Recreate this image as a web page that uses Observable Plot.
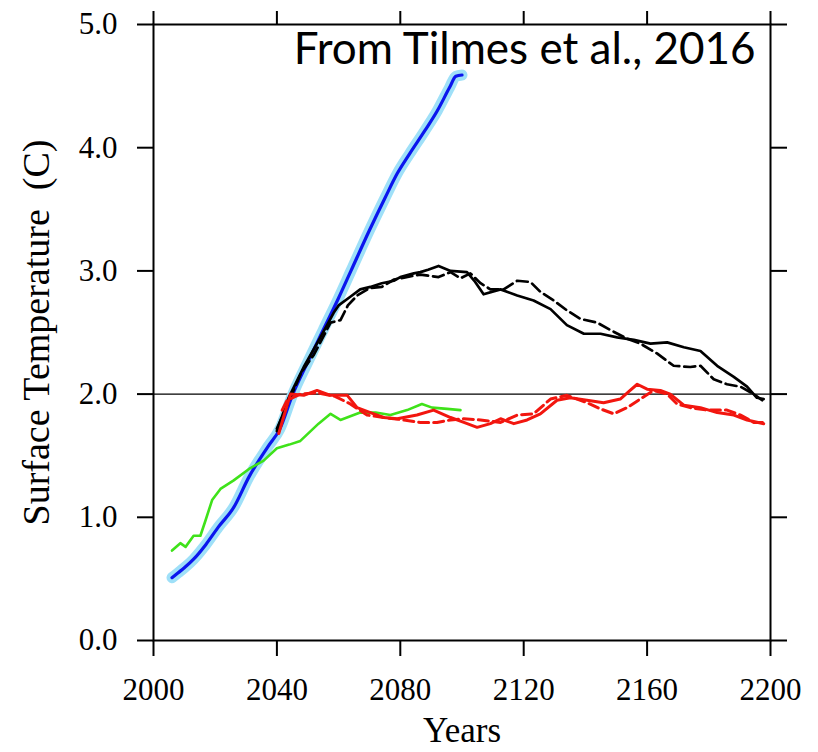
<!DOCTYPE html>
<html>
<head>
<meta charset="utf-8">
<script src="https://cdn.jsdelivr.net/npm/d3@7"></script>
<script src="https://cdn.jsdelivr.net/npm/@observablehq/plot@0.6"></script>
<style>
  html, body { margin: 0; padding: 0; background: #fff; }
</style>
</head>
<body>
<div id="chart"></div>
<script>
// ---- Data (years, surface temperature °C) ----
const blueYears = [2006, 2008, 2010, 2013, 2017, 2021, 2026, 2031, 2037, 2041, 2045, 2050, 2055, 2060, 2064, 2070, 2075, 2079, 2083, 2088, 2092, 2096, 2098, 2100];
const blueVals  = [0.51, 0.55, 0.59, 0.66, 0.78, 0.92, 1.08, 1.33, 1.57, 1.72, 1.99, 2.26, 2.52, 2.78, 3.00, 3.33, 3.59, 3.79, 3.95, 4.14, 4.30, 4.49, 4.58, 4.59];

const greenYears = [2006, 2008.7, 2010.4, 2013, 2015.2, 2016.8, 2019, 2021.7, 2026, 2031.4, 2035.7, 2040, 2044, 2047.6, 2053.5, 2057.4, 2060.6, 2067, 2072, 2076.8, 2082.2, 2087, 2090.3, 2095.2, 2099.5];
const greenVals  = [0.73, 0.79, 0.76, 0.85, 0.85, 0.97, 1.14, 1.23, 1.30, 1.40, 1.46, 1.56, 1.59, 1.62, 1.76, 1.84, 1.79, 1.85, 1.85, 1.83, 1.87, 1.92, 1.89, 1.88, 1.87];

const blackSolidYears = [2040, 2043.8, 2048.7, 2054.1, 2058.4, 2060, 2063.8, 2067, 2070.3, 2074, 2077.9, 2080, 2084.4, 2086.5, 2089, 2092.4, 2096.3, 2101.6, 2104, 2107, 2112.5, 2117.9, 2123.2, 2128.7, 2134, 2139.5, 2144.9, 2150.3, 2155.7, 2161.1, 2166.5, 2171.9, 2177.3, 2182.7, 2188.1, 2192.4, 2195.6, 2197.8];
const blackSolidVals  = [1.70, 1.97, 2.22, 2.46, 2.66, 2.72, 2.79, 2.85, 2.87, 2.90, 2.92, 2.95, 2.98, 2.99, 3.01, 3.04, 3.00, 2.99, 2.92, 2.81, 2.85, 2.80, 2.76, 2.69, 2.56, 2.49, 2.49, 2.46, 2.44, 2.41, 2.42, 2.38, 2.35, 2.23, 2.14, 2.06, 1.97, 1.96];

const blackDashYears = [2040, 2044, 2048, 2052, 2057.4, 2060.6, 2063, 2066, 2070, 2074, 2078, 2082, 2086.5, 2092.4, 2096.3, 2099.5, 2102.7, 2106, 2109.2, 2113.5, 2117.9, 2122.2, 2125.4, 2129.7, 2134, 2138.4, 2143.8, 2148.1, 2153.5, 2157.8, 2163.2, 2168.6, 2174, 2177.3, 2181.6, 2185.9, 2190.3, 2194.6, 2197.3];
const blackDashVals  = [1.72, 1.95, 2.18, 2.32, 2.58, 2.60, 2.72, 2.80, 2.86, 2.87, 2.93, 2.95, 2.97, 2.95, 2.99, 2.94, 2.98, 2.90, 2.85, 2.85, 2.92, 2.91, 2.83, 2.76, 2.68, 2.61, 2.58, 2.52, 2.45, 2.41, 2.33, 2.23, 2.22, 2.23, 2.12, 2.08, 2.06, 2.00, 1.95];

const redSolidYears = [2040.6, 2042, 2044.4, 2048.7, 2053, 2057.4, 2062.8, 2066, 2070.3, 2074.6, 2079, 2085.4, 2090.8, 2096.3, 2100.6, 2104.9, 2109.2, 2112.5, 2116.8, 2121.1, 2125.4, 2130.8, 2135.1, 2140.5, 2145.9, 2151.3, 2154.5, 2156.8, 2160, 2164.3, 2167.5, 2171.9, 2177.3, 2182.7, 2188.1, 2192.4, 2197.8];
const redSolidVals  = [1.68, 1.80, 2.00, 1.99, 2.03, 1.99, 1.99, 1.89, 1.85, 1.81, 1.80, 1.83, 1.87, 1.81, 1.77, 1.73, 1.76, 1.80, 1.76, 1.79, 1.84, 1.95, 1.97, 1.95, 1.93, 1.96, 2.03, 2.08, 2.04, 2.03, 2.00, 1.91, 1.89, 1.85, 1.83, 1.79, 1.76];

const redDashYears = [2041.7, 2043.3, 2047.6, 2053, 2059, 2063.8, 2069.2, 2074.6, 2081.1, 2086.5, 2091.9, 2096.3, 2100.6, 2106, 2112.5, 2117.9, 2123.2, 2128.7, 2134, 2140.5, 2144.9, 2149.2, 2153.5, 2157.8, 2162.1, 2166.5, 2169.7, 2174, 2179.4, 2185.9, 2190.3, 2194.6, 2197.8];
const redDashVals  = [1.87, 1.95, 2.00, 2.01, 1.98, 1.92, 1.83, 1.81, 1.79, 1.77, 1.77, 1.79, 1.80, 1.79, 1.77, 1.83, 1.84, 1.96, 1.99, 1.93, 1.88, 1.84, 1.89, 1.96, 2.03, 2.00, 1.92, 1.89, 1.87, 1.87, 1.83, 1.77, 1.77];

const xTicks = [2000, 2040, 2080, 2120, 2160, 2200];
const yTicks = [0, 1, 2, 3, 4, 5];
const targetLevel = [2.0];
const yLabel = "Surface Temperature  (C)";
const xLabel = "Years";
const sourceNote = "From Tilmes et al., 2016";

const toRows = (years, vals) => years.map((y, i) => ({year: y, t: vals[i]}));
const blue = toRows(blueYears, blueVals);
const green = toRows(greenYears, greenVals);
const blackSolid = toRows(blackSolidYears, blackSolidVals);
const blackDash = toRows(blackDashYears, blackDashVals);
const redSolid = toRows(redSolidYears, redSolidVals);
const redDash = toRows(redDashYears, redDashVals);

const serif = "'Liberation Serif', 'Times New Roman', serif";

const chart = Plot.plot({
  width: 818,
  height: 752,
  marginLeft: 153,
  marginRight: 48,
  marginTop: 24,
  marginBottom: 112,
  x: {domain: [2000, 2200]},
  y: {domain: [0, 5]},
  style: {fontFamily: serif, background: "#fff", color: "#000"},
  marks: [
    Plot.ruleY(targetLevel, {stroke: "#000", strokeWidth: 1.3}),
    Plot.line(blue, {x: "year", y: "t", stroke: "#9fe0f8", strokeWidth: 11, curve: "monotone-x"}),
    Plot.line(blue, {x: "year", y: "t", stroke: "#0b16ee", strokeWidth: 3.2, curve: "monotone-x"}),
    Plot.line(green, {x: "year", y: "t", stroke: "#3fe21a", strokeWidth: 2.6}),
    Plot.line(blackDash, {x: "year", y: "t", stroke: "#000", strokeWidth: 2.7, strokeDasharray: "11,5"}),
    Plot.line(blackSolid, {x: "year", y: "t", stroke: "#000", strokeWidth: 2.7}),
    Plot.line(redDash, {x: "year", y: "t", stroke: "#f2160f", strokeWidth: 3, strokeDasharray: "10,5"}),
    Plot.line(redSolid, {x: "year", y: "t", stroke: "#f2160f", strokeWidth: 3}),
    Plot.frame({stroke: "#000", strokeWidth: 2}),
    Plot.axisX({anchor: "bottom", ticks: xTicks, tickFormat: d => String(d), tickSize: 16, tickPadding: 21, strokeWidth: 2, fontSize: 31, label: null}),
    Plot.axisX({anchor: "top", ticks: xTicks, tickFormat: () => "", tickSize: 14, strokeWidth: 2, label: null}),
    Plot.axisY({anchor: "left", ticks: yTicks, tickFormat: d => d.toFixed(1), tickSize: 16, tickPadding: 20, strokeWidth: 2, fontSize: 31, label: null}),
    Plot.axisY({anchor: "right", ticks: yTicks, tickFormat: () => "", tickSize: 16, strokeWidth: 2, label: null}),
    Plot.text([yLabel], {frameAnchor: "left", rotate: -90, dx: -117, textAnchor: "middle", lineAnchor: "middle", fontSize: 38, fontFamily: serif, fill: "#000"}),
    Plot.text([xLabel], {frameAnchor: "bottom", dy: 90, textAnchor: "middle", lineAnchor: "middle", fontSize: 35, fontFamily: serif, fill: "#000"}),
    Plot.text([sourceNote], {frameAnchor: "top-right", dx: -15, dy: 8, lineAnchor: "top", textAnchor: "end", fontSize: 44, fontFamily: "Lato, 'Open Sans', sans-serif", fill: "#000"})
  ]
});
document.getElementById("chart").appendChild(chart);
</script>
</body>
</html>
